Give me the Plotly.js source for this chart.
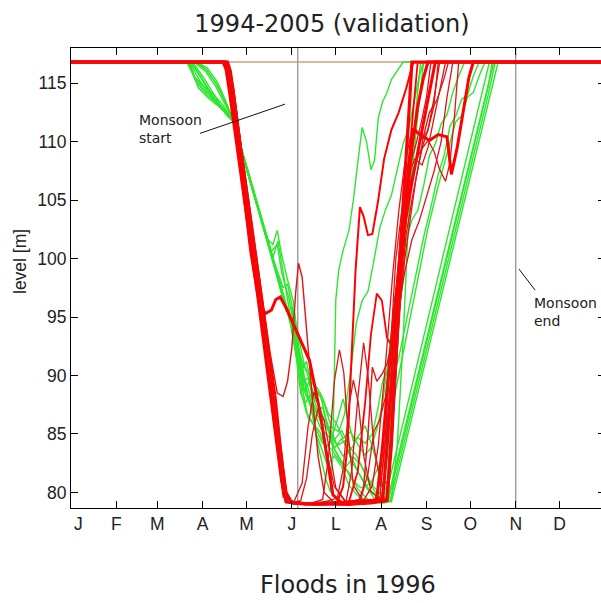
<!DOCTYPE html>
<html>
<head>
<meta charset="utf-8">
<script src="https://cdn.plot.ly/plotly-3.0.1.min.js"></script>
<style>
  html, body { margin: 0; padding: 0; overflow: hidden; background: #fff; }
  #chart { width: 608px; height: 603px; }
</style>
</head>
<body>
<div id="chart"></div>
<script>
// Reservoir level trajectories over the year, day-of-year vs level [m]
const monthLabels = ['\u00a0\u00a0\u00a0J', 'F', 'M', 'A', 'M', 'J', 'L', 'A', 'S', 'O', 'N', 'D'];
const monthStartDays = [0, 31, 59, 90, 120, 151, 181, 212, 243, 273, 304, 334];
const levelTicks = [80, 85, 90, 95, 100, 105, 110, 115];
const maxLevelLine = [[0, 116.8], [365, 116.8]];
const monsoonStartDay = 155;
const monsoonEndDay = 304;
const startPointer = [[88.2, 110.7], [146.3, 113.2]];
const endPointer = [[306.2, 99.1], [317.2, 97.3]];

// green trajectories [day, level]
const green1 = [[0,116.8],[80,116.8],[86,115],[93,114],[100,113.2],[106,112.5],[111,111.7],[120,107.8],[130,103.4],[140,99],[150,94.6],[155,91.5],[159,89.5],[162,89.8],[165,88.2],[169,87.6],[173,86.2],[177,85.5],[182,84],[187,84.4],[192,82.6],[198,81.4],[204,80.2],[210,79.5],[216,79.2],[222,82.3],[240,91.6],[255,99.4],[270,107.1],[285,114.8],[289,116.8],[365,116.8]];
const green2 = [[0,116.8],[85,116.8],[92,116.2],[99,115],[105,113.5],[111,111.7],[121,107.4],[131,103],[141,98.6],[147,96],[151,94.8],[154,92.6],[157,90.3],[160,88.6],[163,89.6],[166,88],[170,86.4],[175,86],[180,83.8],[185,84.6],[190,83.5],[196,81.8],[202,80.4],[208,79.4],[214,79.2],[220,82.3],[235,90.1],[250,97.9],[265,105.7],[280,113.5],[286,116.8],[365,116.8]];
const green3 = [[0,116.8],[82,116.8],[90,115.2],[98,113.5],[105,112.5],[111,111.7],[120,107.6],[130,103.3],[138,100.1],[141.5,101.5],[144,99.6],[150,95],[155,91.6],[160,89.4],[165,86.6],[170,83.4],[174,81.2],[177.5,80],[179,84],[180,90],[181,96.5],[183,99],[186,100.7],[190,102.4],[193,105],[196,108.2],[199,111.2],[202,110],[205,107.6],[207.5,108.4],[210,112],[213,113.4],[216,114.2],[219,115.3],[223,116],[227,116.8],[365,116.8]];
const green4 = [[0,116.8],[81,116.8],[87,114.6],[94,113.7],[101,113],[106,112.4],[111,111.7],[121,107.2],[131,103],[140,99.3],[145,97.5],[148,97.8],[151,96],[155,93.6],[160,90.6],[164,89.4],[168,89],[172,88.1],[176,86.7],[181,86],[186,84.6],[191,85.2],[196,84.1],[201,83.2],[205,83.8],[209,85.4],[213,87.6],[217,91.5],[221,96.2],[225,99.5],[229,101.6],[233,103.3],[237,104.1],[241,106.2],[245,108.8],[249,109.8],[253,111.5],[257,112.3],[261,114.2],[265,115.6],[269,116.8],[365,116.8]];
const green5 = [[0,116.8],[86,116.8],[93,116.3],[100,115.1],[106,113.4],[111,111.7],[120,107.6],[130,103.4],[140,99],[150,94.4],[154,91.5],[157,88.5],[160,87.6],[163,88.3],[167,85.6],[172,84.2],[178,83.7],[184,82.6],[190,81.7],[196,80.3],[203,79.4],[211,79.2],[216,80.6],[219,86.5],[222,92],[224,97],[226,99.5],[229,103],[232,106],[235,110],[238,113.5],[241,116.8],[365,116.8]];
const green6 = [[0,116.8],[83,116.8],[91,115.4],[99,113.7],[106,112.3],[111,111.7],[121,107.3],[131,102.9],[140,98.8],[147,95.5],[151,95.8],[154,93.5],[158,89],[162,86.4],[166,85.8],[170,85.2],[174,83.8],[178,84.6],[182,86.2],[186,88],[189,86.4],[193,84.4],[197,84.9],[201,85.7],[205,84.3],[209,82.5],[213,80.6],[216,79.4],[219,79.2],[230,84.9],[245,92.6],[260,100.4],[275,108.1],[290,115.8],[292,116.8],[365,116.8]];
const green7 = [[0,116.8],[84,116.8],[92,116],[99,114.7],[106,113],[111,111.7],[121,107.5],[131,103.2],[137,100.6],[141,101.2],[144,98.8],[149,96.6],[154,93],[158,90.4],[162,88],[166,87.2],[171,86],[176,85.4],[181,84.2],[186,83.1],[191,83.6],[196,84.7],[201,84.2],[206,85],[210,87.3],[213,89.5],[216,90.4],[220,89.6],[224,91.5],[229,94.5],[235,98],[241,101.8],[246,104.4],[251,107.2],[255,108.8],[259,111.3],[263,112.2],[267,113.6],[271,114],[275,115.6],[279,116.8],[365,116.8]];
const green8 = [[0,116.8],[80,116.8],[85,115.3],[92,114.3],[100,113.4],[106,112.6],[111,111.7],[121,107.2],[131,102.8],[141,98.4],[150,94.6],[155,92],[158,90.5],[161,91.2],[164,89.2],[167,88],[170,88.6],[174,86.4],[178,84.2],[183,83],[188,82.2],[193,83],[198,82.4],[203,81],[208,80],[213,79.3],[218,79.2],[226,83.4],[240,90.6],[255,98.4],[270,106.2],[285,113.9],[290,116.8],[365,116.8]];
const green9 = [[0,116.8],[82,116.8],[89,115.5],[97,113.9],[104,112.7],[111,111.7],[120,107.9],[130,103.5],[140,99.2],[150,94.8],[155,92.3],[159,90.8],[163,90.2],[168,88.7],[173,87.6],[178,85.6],[183,85.2],[187,86.7],[191,90.2],[195,94.5],[199,96.4],[203,97.2],[207,99.8],[211,102.6],[215,104.2],[219,105.4],[223,107.6],[227,109.8],[231,111.2],[235,113.8],[238,115.6],[241,116.8],[365,116.8]];
const green10 = [[0,116.8],[85,116.8],[93,116.1],[101,114.6],[107,113],[111,111.7],[121,107.4],[131,103],[141,98.5],[150,94.7],[154,92.4],[158,88.2],[161,86.8],[165,86],[170,84.2],[175,82.4],[180,83.1],[185,82.2],[190,80.6],[197,79.6],[205,79.2],[214,79.1],[219,79.3],[223,84],[227,93],[230,101.5],[233,108],[236,113],[239,116.8],[365,116.8]];
const green11 = [[0,116.8],[81,116.8],[88,115.2],[96,113.8],[103,112.9],[111,111.7],[121,107.3],[131,102.9],[141,98.6],[151,94.2],[155,91.3],[159,88.8],[163,87.6],[167,86.6],[171,85.4],[176,84.8],[181,83.5],[186,82.4],[192,81.1],[198,80.4],[205,80.8],[211,82.4],[217,85.6],[223,89.4],[230,93.8],[237,98.4],[244,102.6],[251,106.2],[258,109.3],[263,111.7],[267,112.2],[271,113.8],[275,114.2],[279,115.6],[283,116.8],[365,116.8]];
const green12 = [[0,116.8],[79,116.8],[84,115.6],[90,114.8],[97,114.1],[104,113.1],[111,111.7],[119,108.3],[127,104.8],[134,101.7],[138,101.2],[141,102.4],[144,100.3],[148,98.2],[152,96.3],[156,92.2],[160,89.6],[164,88.2],[168,86.8],[172,87.3],[176,85.2],[180,84.5],[185,85.3],[190,84],[195,83.2],[200,81.9],[206,80.6],[212,79.8],[217,79.3],[222,81.9],[237,89.7],[253,98],[269,106.3],[285,114.6],[288,116.8],[365,116.8]];

// red trajectories [day, level]
const red1 = [[0,116.8],[104,116.8],[106,116.2],[108,114.6],[128,96.5],[144,81],[147,79.2],[160,79],[175,79.1],[190,79],[205,79.2],[213,79.3],[216,84],[219,90],[222,95.5],[225,100.7],[229,108],[231,112.5],[233,116.8],[365,116.8]];
const red2 = [[0,116.8],[106,116.8],[108,116],[110,114.3],[123,100.5],[129,96],[133,95.3],[137,95.6],[140,96.5],[143,96.7],[147,95.8],[155,93.6],[163,91.3],[170,87],[175,83],[179,79.8],[185,79.1],[200,79.1],[209,79.4],[213,84],[217,90],[221,95.5],[225,100],[229,103.5],[233,106.5],[238,109.8],[242,112.5],[246,115],[249,116.8],[365,116.8]];
const red3 = [[0,116.8],[107,116.8],[109,115.6],[111,114.2],[124,102.8],[136,92],[141,88.5],[145,88.2],[148,89.5],[151,92.4],[153.5,97],[155.5,99.6],[158,98.4],[161,94],[165,88],[169,83],[173,80],[180,79.1],[196,79],[200,80.5],[203,85],[206,90.7],[209,89.5],[213,90.2],[216,91],[220,93],[224,97.8],[228,102.6],[232,106.5],[236,108.4],[240,109.5],[244,111],[248,113.6],[252,116.8],[365,116.8]];
const red4 = [[0,116.8],[107,116.8],[109,115.8],[111,114.2],[140,88],[147,79.6],[152,79.1],[170,79],[182,79.2],[186,80.5],[189,84],[192,92],[194.5,99],[197.5,104.4],[200,103.6],[203,102],[206,102.1],[210,105],[214,108.5],[219,111],[224,112.5],[229,114.5],[234,116.8],[365,116.8]];
const red5 = [[0,116.8],[106,116.8],[108,116],[110,114.5],[128,97],[145,79.6],[152,79],[165,79.1],[172,79.4],[176,83],[180,89.5],[183.5,92.2],[186.5,90.2],[189.5,85],[193,80.6],[200,79.2],[208,79.4],[213,82],[218,88.6],[223,94.8],[228,98.8],[233,101.6],[238,103.2],[243,105.2],[248,107.4],[253,110],[257,113.8],[261,116.8],[365,116.8]];
const red6 = [[0,116.8],[107,116.8],[109,115.8],[111,114.4],[130,95],[147,79.4],[156,79],[170,79.1],[182,79.5],[186,82],[190,87.4],[193,89.6],[196.5,87.6],[200,83.2],[205,80.1],[212,79.4],[216,83],[220,89.6],[224,95],[228,99.8],[232,103.5],[236,107],[240,109.4],[244,110.1],[248,109.2],[252,107.6],[256,106.6],[259,108.2],[262,112],[265,116.8],[365,116.8]];
const red7 = [[0,116.8],[105,116.8],[107,116.2],[109,114.8],[129,96.4],[145,80.4],[148,79.2],[165,79],[190,79],[205,79.1],[216,79.3],[219,84],[222,91],[225,98],[228,103.5],[231,108],[234,111],[240,110.5],[245,110.1],[251,110.6],[257,110.4],[260,107.2],[264,109.5],[268,112.5],[272,115.5],[275,116.8],[365,116.8]];
const red8 = [[0,116.8],[106,116.8],[108,116],[110,114.6],[128,97.5],[146,80],[150,79.1],[157,79.3],[161,81.2],[165,85],[169,87.2],[173,86.2],[177,83.4],[181,80.4],[188,79.2],[198,79.4],[203,81.6],[207,85.2],[211,86.2],[215,88.2],[219,92.8],[223,98.8],[227,104.3],[231,107.8],[235,109.4],[239,111.4],[243,113.8],[246,116.8],[365,116.8]];
const red9 = [[0,116.8],[107,116.8],[109,115.8],[111,114.6],[130,96],[148,79.2],[170,79],[190,79.2],[196,81.8],[201,87.6],[205,93.5],[209,97],[212.5,96.4],[216,93.2],[219,92.6],[222,95.6],[226,101.8],[230,107.6],[234,112.8],[237,116.8],[365,116.8]];
const red10 = [[0,116.8],[106,116.8],[108,116],[110,114.6],[129,96.5],[147,79.4],[152,79.1],[158,80.8],[162,85.6],[166,88.6],[170,87.2],[175,83.3],[180,80.5],[188,79.1],[200,79],[211,79.3],[215,85],[219,93],[222,100],[226,104],[230,107],[235,108.5],[240,108],[244,109.5],[248,112],[252,114.5],[256,116.8],[365,116.8]];
const red11 = [[0,116.8],[107,116.8],[109,115.7],[111,114.4],[130,95.8],[148,79.4],[155,79.1],[175,79.1],[200,79.3],[206,80.6],[210,84],[215,91],[220,98.8],[224,104],[228,108],[232,110.4],[236,111],[240,110.2],[244,111],[248,113],[251,116.8],[365,116.8]];
const red12 = [[0,116.8],[107,116.8],[109,116],[111,114.2],[130,96],[147,80],[151,79.1],[170,79],[190,79.2],[205,79.3],[216,79.4],[219,85],[222,92],[225,98],[229,104],[233,109.5],[237,113],[241,115.5],[244,116.8],[365,116.8]];
const red13 = [[0,116.8],[107,116.8],[109,115.8],[111,114.5],[147,79.5],[152,79.1],[188,79.2],[192,82],[196,88],[200,92.8],[203,90],[207,84],[212,80.5],[217,81],[221,88],[225,96],[229,102],[233,105],[237,107.6],[241,110.5],[245,112.5],[250,113.5],[255,115.4],[258,116.8],[365,116.8]];

const greenRuns = [green1, green2, green3, green4, green5, green6, green7, green8, green9, green10, green11, green12];
const redRuns = [red1, red2, red3, red4, red5, red6, red7, red8, red9, red10, red11, red12, red13];
const redWidths = [3.2, 3, 1.4, 2, 1.3, 1.3, 3, 1.3, 1.8, 1.3, 1.3, 3, 1.3];

function lineTrace(points, color, width) {
  return {
    type: 'scatter', mode: 'lines',
    x: points.map(p => p[0]), y: points.map(p => p[1]),
    line: { color: color, width: width, shape: 'linear' },
    hoverinfo: 'skip', showlegend: false
  };
}

const traces = [];
traces.push(lineTrace(maxLevelLine, '#c9a07a', 1.5));
greenRuns.forEach(r => traces.push(lineTrace(r, '#2fe62f', 1.4)));
redRuns.forEach((r, i) => traces.push(lineTrace(r, redWidths[i] >= 1.8 ? '#ff0000' : '#e01414', redWidths[i])));

const tickFont = { family: 'Liberation Sans, Arial, sans-serif', size: 17.5, color: '#222' };
const noteFont = { family: 'DejaVu Sans, Verdana, sans-serif', size: 14, color: '#222' };

const layout = {
  width: 608, height: 603,
  margin: { l: 71, r: 3, t: 48, b: 95 },
  paper_bgcolor: '#fff', plot_bgcolor: '#fff',
  title: {
    text: '1994-2005 (validation)',
    font: { family: 'DejaVu Sans, Verdana, sans-serif', size: 24, color: '#222' },
    xref: 'container', yref: 'container', x: 332 / 608, xanchor: 'center', y: 1 - 24 / 603, yanchor: 'middle'
  },
  xaxis: {
    range: [0, 365], tickvals: monthStartDays, ticktext: monthLabels,
    ticks: 'inside', ticklen: 7, tickcolor: '#000', tickwidth: 1,
    showline: true, linecolor: '#000', linewidth: 1, mirror: 'ticks',
    showgrid: false, zeroline: false, tickfont: tickFont, fixedrange: true
  },
  yaxis: {
    range: [78.67, 118.0], tickvals: levelTicks,
    ticks: 'inside', ticklen: 7, tickcolor: '#000', tickwidth: 1,
    showline: true, linecolor: '#000', linewidth: 1, mirror: 'ticks',
    showgrid: false, zeroline: false, tickfont: tickFont, fixedrange: true
  },
  shapes: [
    { type: 'line', layer: 'below', xref: 'x', yref: 'paper', x0: monsoonStartDay, x1: monsoonStartDay, y0: 0, y1: 1, line: { color: '#8a8a8a', width: 1.2 } },
    { type: 'line', layer: 'below', xref: 'x', yref: 'paper', x0: monsoonEndDay, x1: monsoonEndDay, y0: 0, y1: 1, line: { color: '#8a8a8a', width: 1.2 } },
    { type: 'line', xref: 'x', yref: 'y', x0: startPointer[0][0], y0: startPointer[0][1], x1: startPointer[1][0], y1: startPointer[1][1], line: { color: '#111', width: 1 } },
    { type: 'line', xref: 'x', yref: 'y', x0: endPointer[0][0], y0: endPointer[0][1], x1: endPointer[1][0], y1: endPointer[1][1], line: { color: '#111', width: 1 } }
  ],
  annotations: [
    { text: 'Monsoon<br>start', xref: 'x', yref: 'y', x: 45.1, y: 111.07, xanchor: 'left', yanchor: 'middle', align: 'left', showarrow: false, font: noteFont },
    { text: 'Monsoon<br>end', xref: 'x', yref: 'y', x: 315.1, y: 95.47, xanchor: 'left', yanchor: 'middle', align: 'left', showarrow: false, font: noteFont },
    { text: 'level [m]', xref: 'paper', yref: 'paper', x: (20 - 71) / 534, y: (508 - 262) / 460, xanchor: 'center', yanchor: 'middle', textangle: -90, showarrow: false, font: { family: 'Liberation Sans, Arial, sans-serif', size: 17.5, color: '#222' } },
    { text: 'Floods in 1996', xref: 'paper', yref: 'paper', x: (347.5 - 71) / 534, y: (508 - 585) / 460, xanchor: 'center', yanchor: 'middle', showarrow: false, font: { family: 'DejaVu Sans, Verdana, sans-serif', size: 24, color: '#222' } }
  ]
};

Plotly.newPlot('chart', traces, layout, { staticPlot: true, displayModeBar: false });
</script>
</body>
</html>
